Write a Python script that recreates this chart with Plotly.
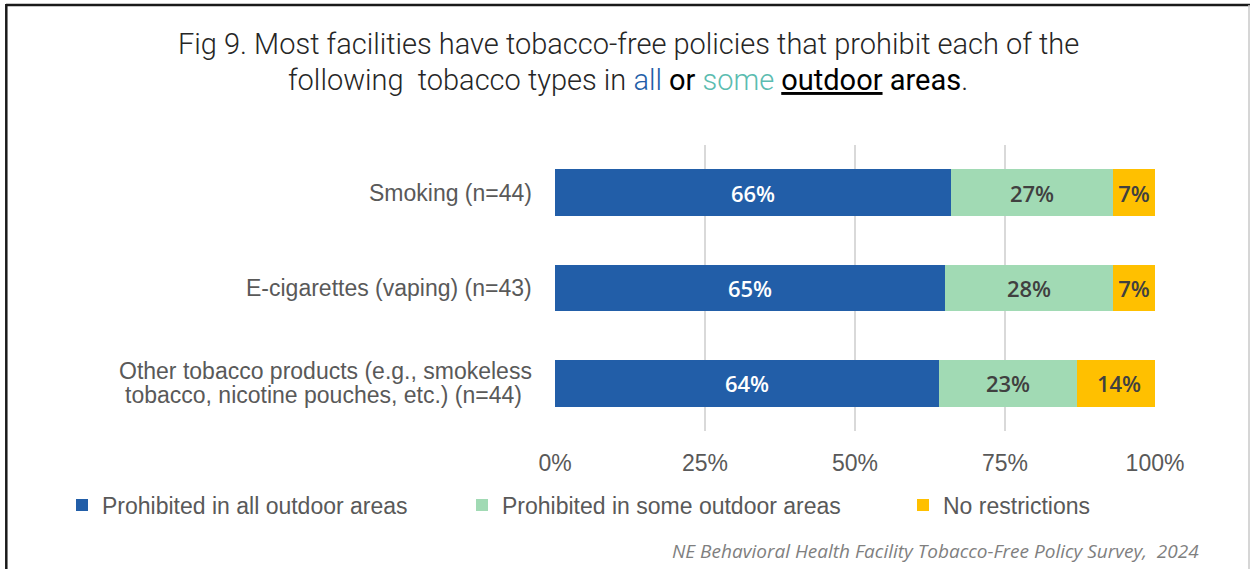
import plotly.graph_objects as go

# Survey results: share of facilities by policy scope, per tobacco type
categories = ["Smoking (n=44)", "E-cigarettes (vaping) (n=43)", "Other tobacco products"]
category_lines = [
    ["Smoking (n=44)"],
    ["E-cigarettes (vaping) (n=43)"],
    ["Other tobacco products (e.g., smokeless", "tobacco, nicotine pouches, etc.) (n=44)"],
]
all_outdoor = [66, 65, 64]
some_outdoor = [27, 28, 23]
no_restrictions = [7, 7, 14]

series_names = [
    "Prohibited in all outdoor areas",
    "Prohibited in some outdoor areas",
    "No restrictions",
]
x_ticks = [0, 25, 50, 75, 100]
x_tick_labels = ["0%", "25%", "50%", "75%", "100%"]

BLUE = "#225EA8"
GREEN = "#A1DAB4"
GOLD = "#FFC000"
GREY_TEXT = "#595959"
LABEL_SIZE = 23

W, H = 1250, 569
L, R, T, B = 555, 95, 145, 138
PW, PH = W - L - R, H - T - B


def px_x(px):
    return (px - L) / PW


def px_y(py):
    return (T + PH - py) / PH


series = [
    (series_names[0], all_outdoor, BLUE, "white", "legend"),
    (series_names[1], some_outdoor, GREEN, "#404040", "legend2"),
    (series_names[2], no_restrictions, GOLD, "#404040", "legend3"),
]

fig = go.Figure()
for name, vals, color, txtcol, leg in series:
    fig.add_trace(go.Bar(
        name=name,
        y=categories,
        x=vals,
        orientation="h",
        marker=dict(color=color, line=dict(width=0)),
        text=[f"{v}%" for v in vals],
        textposition="inside",
        insidetextanchor="middle",
        textangle=0,
        textfont=dict(family="Open Sans", size=22, color=txtcol, weight=600),
        cliponaxis=True,
        hoverinfo="skip",
        legend=leg,
    ))

annotations = []
# category labels (centred multi-line text to the left of the bars)
for cat, lines in zip(categories, category_lines):
    n = len(lines)
    for i, line in enumerate(lines):
        annotations.append(dict(
            x=0, xref="paper", y=cat, yref="y",
            xanchor="right", yanchor="middle",
            xshift=-21 - (0 if (n == 1 or i == 0) else 10),
            yshift=(n - 1) * 12 - i * 24,
            text=line, showarrow=False, align="center",
            font=dict(family="Liberation Sans", size=LABEL_SIZE, color=GREY_TEXT),
        ))

# title
title_font = dict(family="Roboto", size=29, color="#262626", weight=300)
annotations.append(dict(
    x=px_x(628), y=px_y(44), xref="paper", yref="paper",
    xanchor="center", yanchor="middle", showarrow=False,
    text="Fig 9. Most facilities have tobacco-free policies that prohibit each of the",
    font=title_font,
))
annotations.append(dict(
    x=px_x(628), y=px_y(80), xref="paper", yref="paper",
    xanchor="center", yanchor="middle", showarrow=False,
    text=("following  tobacco types in "
          f"<span style='color:{BLUE}'>all</span> "
          "<span style='color:#000000;font-weight:400'>or</span> "
          "<span style='color:#5BBCB0'>some</span> "
          "<span style='color:#000000;font-weight:400'><u>outdoor</u> areas</span>."),
    font=title_font,
))

# source note
annotations.append(dict(
    x=px_x(1201), y=px_y(551), xref="paper", yref="paper",
    xanchor="right", yanchor="middle", showarrow=False,
    text="NE Behavioral Health Facility Tobacco-Free Policy Survey,  2024",
    font=dict(family="Open Sans", size=19, color="#7F7F7F", style="italic"),
))

shapes = [
    # frame around the figure
    dict(type="line", xref="paper", yref="paper", x0=px_x(6), x1=px_x(1250),
         y0=px_y(5), y1=px_y(5), line=dict(color="#1a1a1a", width=2.5)),
    dict(type="line", xref="paper", yref="paper", x0=px_x(6.3), x1=px_x(6.3),
         y0=px_y(4), y1=px_y(575), line=dict(color="#1a1a1a", width=2.5)),
    dict(type="line", xref="paper", yref="paper", x0=px_x(1249), x1=px_x(1249),
         y0=px_y(5), y1=px_y(575), line=dict(color="#C8C8C8", width=1.5)),
]


def legend_box(left_px):
    return dict(
        orientation="h", x=px_x(left_px), y=px_y(505),
        xanchor="left", yanchor="middle",
        font=dict(family="Liberation Sans", size=LABEL_SIZE, color=GREY_TEXT),
        bgcolor="rgba(0,0,0,0)",
    )


fig.update_layout(
    width=W, height=H,
    margin=dict(l=L, r=R, t=T, b=B),
    paper_bgcolor="white", plot_bgcolor="white",
    barmode="stack", bargap=0.51,
    showlegend=True,
    legend=legend_box(62),
    legend2=legend_box(462),
    legend3=legend_box(903),
    xaxis=dict(
        range=[0, 100], tickvals=x_ticks, ticktext=x_tick_labels,
        showgrid=True, gridcolor="#D9D9D9", gridwidth=1.5,
        zeroline=False, showline=False, ticks="",
        ticklabelstandoff=16,
        tickfont=dict(family="Liberation Sans", size=LABEL_SIZE, color=GREY_TEXT),
        fixedrange=True,
    ),
    yaxis=dict(
        categoryorder="array", categoryarray=categories,
        autorange="reversed", showticklabels=False, showgrid=False,
        zeroline=False, showline=False, ticks="", fixedrange=True,
    ),
    annotations=annotations,
    shapes=shapes,
    uniformtext=dict(mode="show", minsize=10),
)

fig.write_html("out.html")
